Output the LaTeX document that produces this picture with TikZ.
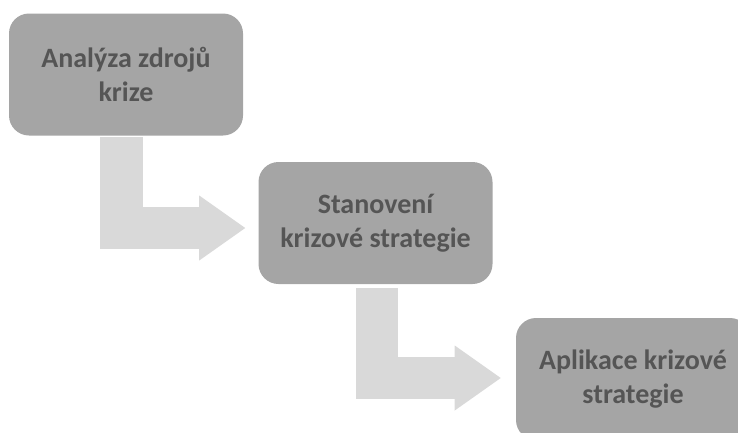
\documentclass[tikz,border=0pt]{standalone}
\usepackage{fontspec}
\setmainfont{Carlito}
\usetikzlibrary{arrows.meta,calc}
\definecolor{boxgray}{HTML}{A5A5A5}
\definecolor{labelgray}{HTML}{555555}
\definecolor{flowgray}{HTML}{D9D9D9}
\tikzset{
  stepbox/.style={fill=boxgray, rounded corners=15pt, inner sep=0pt,
    minimum width=175.5pt, minimum height=91.5pt, align=center,
    text=labelgray, font=\fontsize{21}{25.5}\selectfont\bfseries},
  flow/.style={draw=flowgray, line width=31.9pt, line join=miter,
    -{Triangle[length=34.5pt,width=48.75pt,line width=0pt]}}
}
\begin{document}
\begin{tikzpicture}[x=0.75pt,y=-0.75pt]
  \useasboundingbox (0,0) rectangle (738,432);
  \clip (0,0) rectangle (738,432);
  \node[stepbox] (box1) at (126,74.5) {Analýza zdrojů\\krize};
  \node[stepbox] (box2) at (375.5,223) {Stanovení\\krizové strategie};
  \node[stepbox] (box3) at (633,379) {Aplikace krizové\\strategie};
  \begin{scope}[flow]
    \draw ($(box1.south)+(-4.5,1)$) |- ($(box2.west)+(-13,5)$);
    \draw ($(box2.south)+(1.5,4)$) |- ($(box3.west)+(-15,-1)$);
  \end{scope}
\end{tikzpicture}
\end{document}
